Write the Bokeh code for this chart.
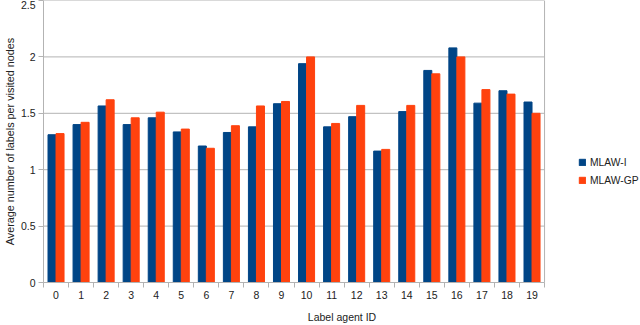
from bokeh.plotting import figure
from bokeh.models import ColumnDataSource, Range1d, FixedTicker, Legend, LegendItem
from bokeh.transform import dodge
from bokeh.embed import file_html
from bokeh.resources import INLINE

agent_ids = list(range(20))
mlaw_i = [1.31, 1.40, 1.565, 1.40, 1.46, 1.335, 1.21, 1.33, 1.38, 1.585,
          1.94, 1.38, 1.47, 1.165, 1.515, 1.88, 2.08, 1.59, 1.70, 1.60]
mlaw_gp = [1.32, 1.42, 1.62, 1.46, 1.51, 1.36, 1.19, 1.39, 1.565, 1.605,
           2.00, 1.41, 1.57, 1.18, 1.57, 1.85, 2.00, 1.71, 1.67, 1.50]
y_ticks = [0, 0.5, 1, 1.5, 2, 2.5]
y_tick_labels = ["0", "0.5", "1", "1.5", "2", "2.5"]
series_names = ["MLAW-I", "MLAW-GP"]
colors = ["#004586", "#ff420e"]

src = ColumnDataSource(dict(x=agent_ids, a=mlaw_i, b=mlaw_gp))

FONT = "Liberation Sans"
GRID = "#b3b3b3"
TXT = "#222222"

x_lo = agent_ids[0] - 0.5
x_hi = agent_ids[-1] + 0.5
# extra room on the right of the category axis holds the legend
p = figure(width=640, height=325, output_backend="svg", toolbar_location=None,
           x_range=Range1d(x_lo, x_hi + 3.83), y_range=Range1d(0, 2.5),
           min_border_left=43, min_border_right=0, min_border_top=0,
           min_border_bottom=10)
p.outline_line_color = None
p.xgrid.grid_line_color = None
p.ygrid.grid_line_color = None

# horizontal grid lines and right border of the plot area
p.segment(x0=[x_lo] * len(y_ticks), x1=[x_hi] * len(y_ticks), y0=y_ticks, y1=y_ticks,
          line_color=GRID, line_width=1)
p.segment(x0=[x_hi], x1=[x_hi], y0=[y_ticks[0]], y1=[y_ticks[-1]],
          line_color=GRID, line_width=1)

r1 = p.vbar(x=dodge("x", -0.16, range=p.x_range), top="a", width=0.32, source=src,
            fill_color=colors[0], line_color=colors[0])
r2 = p.vbar(x=dodge("x", 0.16, range=p.x_range), top="b", width=0.32, source=src,
            fill_color=colors[1], line_color=colors[1])

xa = p.xaxis[0]
xa.bounds = (x_lo, x_hi)
xa.ticker = FixedTicker(ticks=agent_ids, minor_ticks=[i - 0.5 for i in range(21)])
xa.major_tick_out = 0
xa.major_tick_in = 0
xa.minor_tick_out = 5
xa.minor_tick_in = 0
xa.minor_tick_line_color = GRID
xa.axis_line_color = GRID
xa.major_label_standoff = 3
xa.axis_label = "Label agent ID"
xa.axis_label_standoff = 9

ya = p.yaxis[0]
ya.ticker = FixedTicker(ticks=y_ticks)
ya.major_label_overrides = {t: l for t, l in zip(y_ticks, y_tick_labels)}
ya.major_tick_out = 5
ya.major_tick_in = 0
ya.minor_tick_out = 0
ya.minor_tick_in = 0
ya.major_tick_line_color = GRID
ya.axis_line_color = GRID
ya.major_label_standoff = 3
ya.axis_label = "Average number of labels per visited nodes"
ya.axis_label_standoff = 2

for ax in (xa, ya):
    ax.major_label_text_font = FONT
    ax.major_label_text_font_size = "10.5px"
    ax.major_label_text_color = TXT
    ax.axis_label_text_font = FONT
    ax.axis_label_text_font_size = "10.5px"
    ax.axis_label_text_font_style = "normal"
    ax.axis_label_text_color = TXT
ya.axis_label_text_font_size = "10.8px"

legend = Legend(items=[LegendItem(label=series_names[0], renderers=[r1]),
                       LegendItem(label=series_names[1], renderers=[r2])],
                location=(535, 96), orientation="vertical",
                glyph_width=8, glyph_height=8, label_height=12,
                label_standoff=4, spacing=6, padding=0, margin=0,
                border_line_color=None, background_fill_alpha=0,
                label_text_font=FONT, label_text_font_size="10.3px",
                label_text_color=TXT)
p.add_layout(legend)

open("out.html", "w").write(file_html(p, INLINE))
